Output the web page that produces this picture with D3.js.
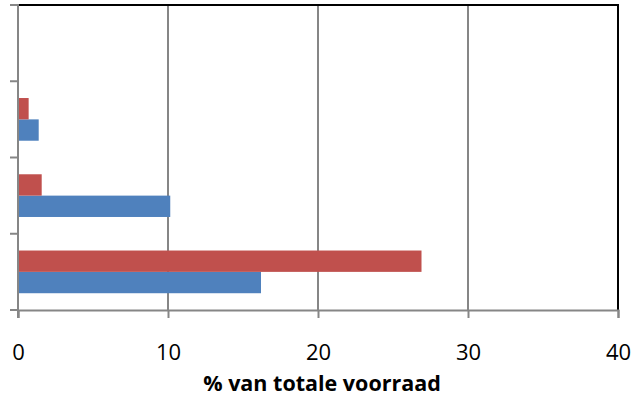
<!DOCTYPE html>
<html>
<head>
<meta charset="utf-8">
<script src="https://cdn.jsdelivr.net/npm/d3@7"></script>
<style>
  html, body { margin: 0; padding: 0; background: #fff; }
  svg { display: block; }
</style>
</head>
<body>
<svg id="chart" width="634" height="401"></svg>
<script>
// Categories (bottom to top, as drawn by the original bar chart); labels not shown in the reference
const categories = ["cat1", "cat2", "cat3", "cat4"];
const seriesNames = ["serie 1", "serie 2"];
const series1 = [16.2, 10.15, 1.38, 0.06];   // blue
const series2 = [26.9, 1.58, 0.71, 0.0];     // red
const xTicks = [0, 10, 20, 30, 40];
const xTitle = "% van totale voorraad";

(function () {
const colors = ["#4F81BD", "#C0504D"];
const svg = d3.select("#chart");
const mLeft = 18, mRight = 618, mTop = 5, mBottom = 310;

const x = d3.scaleLinear().domain([0, 40]).range([mLeft, mRight]);
// first category at the bottom
const y = d3.scaleBand().domain(categories).range([mBottom, mTop]).paddingInner(0).paddingOuter(0);
const barW = y.bandwidth() * 0.28;
const inner = d3.scaleBand().domain([1, 0]).range([0, barW * 2]);

// gridlines
svg.append("g").selectAll("line").data(xTicks.filter(d => d > 0)).join("line")
  .attr("x1", d => x(d)).attr("x2", d => x(d))
  .attr("y1", mTop).attr("y2", mBottom)
  .attr("stroke", "#868686").attr("stroke-width", 2);

// top and right border
svg.append("line").attr("x1", mLeft).attr("x2", mRight + 1).attr("y1", mTop).attr("y2", mTop)
  .attr("stroke", "#000").attr("stroke-width", 2);
svg.append("line").attr("x1", mRight).attr("x2", mRight).attr("y1", mTop).attr("y2", mBottom)
  .attr("stroke", "#000").attr("stroke-width", 2);

// bars
const data = [];
categories.forEach((c, i) => {
  data.push({cat: c, s: 0, v: series1[i]});
  data.push({cat: c, s: 1, v: series2[i]});
});
const offset = (y.bandwidth() - barW * 2) / 2;
svg.append("g").selectAll("rect").data(data.filter(d => d.v > 0)).join("rect")
  .attr("x", x(0))
  .attr("y", d => y(d.cat) + offset + inner(d.s))
  .attr("width", d => x(d.v) - x(0))
  .attr("height", inner.bandwidth())
  .attr("fill", d => colors[d.s]);

// y axis
const yTickPos = d3.range(categories.length + 1).map(i => mBottom - i * y.bandwidth());
svg.append("line").attr("x1", mLeft).attr("x2", mLeft).attr("y1", mTop - 1).attr("y2", mBottom + 8)
  .attr("stroke", "#868686").attr("stroke-width", 2);
svg.append("g").selectAll("line").data(yTickPos).join("line")
  .attr("x1", mLeft - 8).attr("x2", mLeft).attr("y1", d => d).attr("y2", d => d)
  .attr("stroke", "#868686").attr("stroke-width", 2);

// x axis
const xAxis = d3.axisBottom(x).tickValues(xTicks).tickSize(8).tickPadding(26).tickFormat(d3.format("d"));
const gx = svg.append("g").attr("transform", `translate(0,${mBottom})`).call(xAxis);
gx.select(".domain").attr("stroke", "#868686").attr("stroke-width", 2);
gx.selectAll(".tick line").attr("stroke", "#868686").attr("stroke-width", 2);
gx.selectAll(".tick text").attr("fill", "#000")
  .style("font-family", "'Open Sans', sans-serif").style("font-size", "22px");

svg.append("text").attr("x", 322).attr("y", 391).attr("text-anchor", "middle")
  .style("font-family", "'Open Sans', sans-serif").style("font-size", "21.5px").style("font-weight", "bold")
  .text(xTitle);
})();
</script>
</body>
</html>
